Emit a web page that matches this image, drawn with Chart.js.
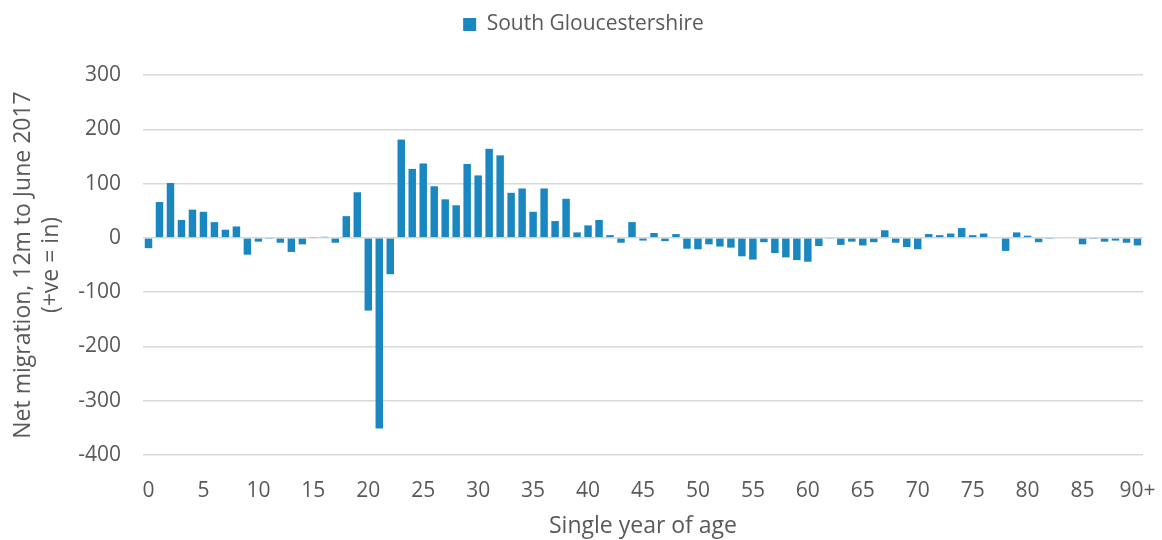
<!DOCTYPE html>
<html>
<head>
<meta charset="utf-8">
<script src="https://cdn.jsdelivr.net/npm/chart.js@4"></script>
<style>
  html, body { margin: 0; padding: 0; background: #fff; }
  #wrap { width: 1162px; height: 540px; }
</style>
</head>
<body>
<div id="wrap"><canvas id="chart" width="1162" height="540"></canvas></div>
<script>
// ages 0..89 plus 90+
const ages = [];
for (let i = 0; i < 90; i++) ages.push(String(i));
ages.push('90+');

const netMigration = [
  -19, 66, 101, 33, 52, 48, 29, 15, 21, -31,
  -7, -2, -9, -26, -12, 1, 2, -9, 40, 84,
  -134, -351, -67, 181, 127, 137, 95, 71, 60, 136,
  115, 164, 152, 83, 91, 48, 91, 31, 72, 10,
  23, 33, 5, -9, 29, -5, 9, -6, 7, -20,
  -21, -12, -16, -18, -34, -40, -8, -28, -36, -41,
  -44, -15, -1, -13, -7, -14, -8, 14, -9, -17,
  -21, 7, 5, 8, 18, 5, 8, 0, -24, 10,
  4, -8, -2, 0, 0, -12, -2, -7, -5, -9,
  -14
];

const yTicks = [300, 200, 100, 0, -100, -200, -300, -400];

const font = "'Open Sans', 'Noto Sans', sans-serif";
const grey = '#595959';

// make the legend block tall enough so the plot starts lower,
// and nudge it right to sit over the plot like the original
const legendGap = {
  id: 'legendGap',
  beforeLayout(chart) {
    const lg = chart.legend;
    if (lg && !lg._patched) {
      const fit = lg.fit;
      lg.fit = function() {
        fit.call(this);
        this.height = 75;
      };
      const draw = lg.draw;
      lg.draw = function() {
        const ctx = this.ctx;
        ctx.save();
        ctx.translate(12, 0);
        draw.call(this);
        ctx.restore();
      };
      lg._patched = true;
    }
  }
};

new Chart(document.getElementById('chart'), {
  type: 'bar',
  data: {
    labels: ages,
    datasets: [{
      label: 'South Gloucestershire',
      data: netMigration,
      backgroundColor: '#1a87c0',
      barPercentage: 0.68,
      categoryPercentage: 1.0
    }]
  },
  options: {
    responsive: false,
    animation: false,
    layout: { padding: { left: 0, right: 19, top: 0, bottom: 0 } },
    plugins: {
      legend: {
        position: 'top',
        labels: {
          color: grey,
          font: { family: font, size: 21 },
          boxWidth: 13,
          boxHeight: 13,
          padding: 14
        }
      },
      tooltip: { enabled: false }
    },
    scales: {
      x: {
        afterFit: function(scale) {
          scale.height = 85;
          scale.paddingLeft = 0;
          scale.paddingRight = 0;
        },
        grid: { display: false, drawTicks: false },
        border: { display: false },
        ticks: {
          autoSkip: false,
          maxRotation: 0,
          color: grey,
          font: { family: font, size: 21 },
          padding: 23,
          callback: function(v, i) { return i % 5 === 0 ? ages[i] : ''; }
        },
        title: {
          display: true,
          text: 'Single year of age',
          color: grey,
          font: { family: font, size: 23 },
          padding: { top: 0, bottom: 0 }
        }
      },
      y: {
        min: -400,
        max: 300,
        afterBuildTicks: function(scale) {
          scale.ticks = yTicks.map(v => ({ value: v }));
        },
        afterFit: function(scale) { scale.width = 143; },
        grid: { color: '#d9d9d9', lineWidth: 1.5, drawTicks: false },
        border: { display: false },
        ticks: {
          color: grey,
          font: { family: font, size: 21 },
          padding: 22
        },
        title: {
          display: true,
          text: ['Net migration, 12m to June 2017', '(+ve = in)'],
          color: grey,
          font: { family: font, size: 23 },
          padding: { top: 10, bottom: 0 }
        }
      }
    }
  },
  plugins: [legendGap]
});
</script>
</body>
</html>
